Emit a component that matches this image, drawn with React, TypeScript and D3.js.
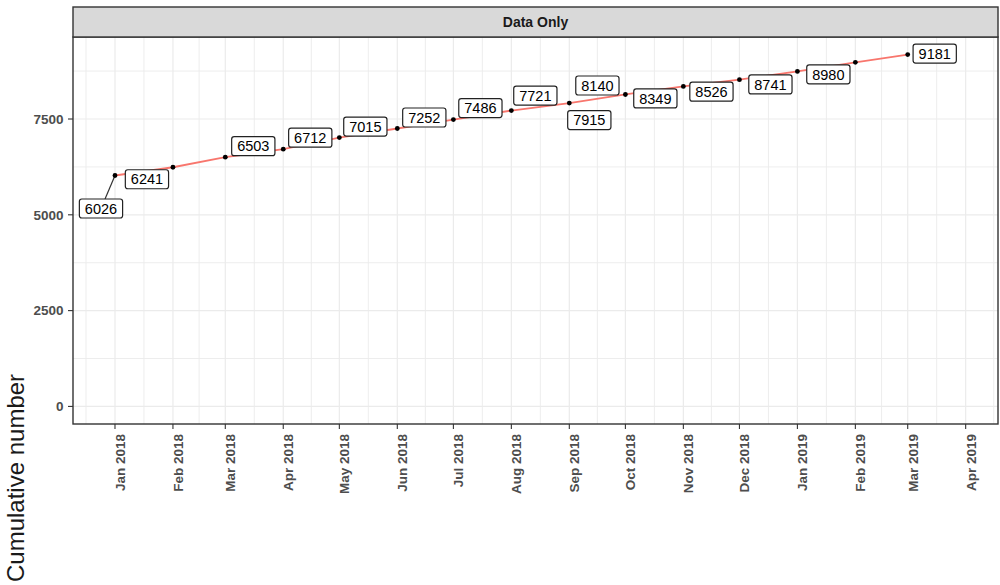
import React, { useEffect } from "react";
import * as d3 from "d3";

// ---- data ----
const monthDates = [
  "2018-01-01", "2018-02-01", "2018-03-01", "2018-04-01", "2018-05-01",
  "2018-06-01", "2018-07-01", "2018-08-01", "2018-09-01", "2018-10-01",
  "2018-11-01", "2018-12-01", "2019-01-01", "2019-02-01", "2019-03-01",
];
const cumulative = [6026, 6241, 6503, 6712, 7015, 7252, 7486, 7721, 7915, 8140, 8349, 8526, 8741, 8980, 9181];
const yTicks = [0, 2500, 5000, 7500];
const yMinorTicks = [1250, 3750, 6250, 8750];
const xLimits = ["2017-12-09T13:00:00Z", "2019-04-18T07:00:00Z"];
const tickStart = "2018-01-01";
const tickEnd = "2019-04-02";
const facetTitle = "Data Only";
const yTitle = "Cumulative number";

// label placement (repelled label offsets, px from point)
const labelDX = [-14, -26, 28, 27, 26, 27, 27, 24, 20, -28, -28, -28, -27, -27, 27];
const labelDY = [33, 12, -11, -11.5, -11, -11, -11.5, -15, 17, -9, 12, 12, 13, 12, -1];

const W = 1000;
const H = 585;
const panel = { left: 73, right: 998, top: 37, bottom: 424 };
const strip = { top: 7, bottom: 37 };
const FONT = "'Liberation Sans', Arial, Helvetica, sans-serif";

export default function App() {
  useEffect(() => {
    document.body.style.margin = "0";
  }, []);

  const parse = (s: string) => new Date(s.length === 10 ? s + "T00:00:00Z" : s);
  const data = monthDates.map((d, i) => ({ date: parse(d), value: cumulative[i], i }));

  const x = d3.scaleUtc().domain([parse(xLimits[0]), parse(xLimits[1])]).range([panel.left, panel.right]);
  const maxV = d3.max(cumulative) as number;
  const pad = 0.05 * (maxV - 0);
  const y = d3.scaleLinear().domain([0 - pad, maxV + pad]).range([panel.bottom, panel.top]);

  const majorX = d3.utcMonth.range(parse(tickStart), parse(tickEnd));
  const allMonths = d3.utcMonth.range(d3.utcMonth.offset(parse(tickStart), -1), d3.utcMonth.offset(parse(tickEnd), 2));
  const minorX: Date[] = [];
  for (let k = 0; k < allMonths.length - 1; k++) {
    const m = new Date((allMonths[k].getTime() + allMonths[k + 1].getTime()) / 2);
    const px = x(m);
    if (px > panel.left && px < panel.right) minorX.push(m);
  }
  const fmt = d3.utcFormat("%b %Y");

  const line = d3
    .line<{ date: Date; value: number }>()
    .x((d) => x(d.date))
    .y((d) => y(d.value));

  const labelFs = 14.5;
  const boxPad = 5.5;
  const boxH = 19;

  return (
    <svg
      width={W}
      height={H}
      style={{ position: "absolute", left: 0, top: 0, background: "#fff" }}
      fontFamily={FONT}
    >
      <rect x={0} y={0} width={W} height={H} fill="#fff" />
      {/* panel background */}
      <rect x={panel.left} y={panel.top} width={panel.right - panel.left} height={panel.bottom - panel.top} fill="#fff" />
      {/* minor grid */}
      {minorX.map((d, k) => (
        <line key={"mx" + k} x1={x(d)} x2={x(d)} y1={panel.top} y2={panel.bottom} stroke="#EBEBEB" strokeWidth={0.9} />
      ))}
      {yMinorTicks.map((v, k) => (
        <line key={"my" + k} x1={panel.left} x2={panel.right} y1={y(v)} y2={y(v)} stroke="#EBEBEB" strokeWidth={0.9} />
      ))}
      {/* major grid */}
      {majorX.map((d, k) => (
        <line key={"Mx" + k} x1={x(d)} x2={x(d)} y1={panel.top} y2={panel.bottom} stroke="#EBEBEB" strokeWidth={1.2} />
      ))}
      {yTicks.map((v, k) => (
        <line key={"My" + k} x1={panel.left} x2={panel.right} y1={y(v)} y2={y(v)} stroke="#EBEBEB" strokeWidth={1.2} />
      ))}

      {/* data line */}
      <path d={line(data) || ""} fill="none" stroke="#F8766D" strokeWidth={1.8} />

      {/* segments for far labels */}
      {data.map((d) => {
        const px = x(d.date);
        const py = y(d.value);
        const cx = px + labelDX[d.i];
        const cy = py + labelDY[d.i];
        const txt = String(d.value);
        const bw = txt.length * 0.556 * labelFs + 2 * boxPad;
        const hw = bw / 2;
        const hh = boxH / 2;
        const dx = px - cx;
        const dy = py - cy;
        const inside = Math.abs(dx) <= hw + 12 && Math.abs(dy) <= hh + 12;
        if (inside) return null;
        const t = Math.min(hw / Math.abs(dx || 1e-9), hh / Math.abs(dy || 1e-9));
        const ex = cx + dx * t;
        const ey = cy + dy * t;
        return <line key={"seg" + d.i} x1={px} y1={py} x2={ex} y2={ey} stroke="#333" strokeWidth={1.2} />;
      })}

      {/* points */}
      {data.map((d) => (
        <circle key={"pt" + d.i} cx={x(d.date)} cy={y(d.value)} r={2.4} fill="#000" />
      ))}

      {/* labels */}
      {data.map((d) => {
        const px = x(d.date);
        const py = y(d.value);
        const cx = px + labelDX[d.i];
        const cy = py + labelDY[d.i];
        const txt = String(d.value);
        const bw = txt.length * 0.556 * labelFs + 2 * boxPad;
        return (
          <g key={"lab" + d.i}>
            <rect x={cx - bw / 2} y={cy - boxH / 2} width={bw} height={boxH} rx={2.5} fill="#fff" stroke="#222" strokeWidth={1.2} />
            <text x={cx} y={cy} dy="0.36em" textAnchor="middle" fontSize={labelFs} fill="#000">
              {txt}
            </text>
          </g>
        );
      })}

      {/* panel border */}
      <rect
        x={panel.left}
        y={panel.top}
        width={panel.right - panel.left}
        height={panel.bottom - panel.top}
        fill="none"
        stroke="#333"
        strokeWidth={1.4}
      />

      {/* strip */}
      <rect
        x={panel.left}
        y={strip.top}
        width={panel.right - panel.left}
        height={strip.bottom - strip.top}
        fill="#D9D9D9"
        stroke="#333"
        strokeWidth={1.4}
      />
      <text
        x={(panel.left + panel.right) / 2}
        y={(strip.top + strip.bottom) / 2}
        dy="0.36em"
        textAnchor="middle"
        fontSize={14}
        fontWeight="bold"
        fill="#1A1A1A"
      >
        {facetTitle}
      </text>

      {/* y axis */}
      {yTicks.map((v, k) => (
        <g key={"yt" + k}>
          <line x1={panel.left - 5} x2={panel.left} y1={y(v)} y2={y(v)} stroke="#333" strokeWidth={1.1} />
          <text x={panel.left - 9.5} y={y(v)} dy="0.36em" textAnchor="end" fontSize={13.5} fontWeight="bold" fill="#4D4D4D">
            {v}
          </text>
        </g>
      ))}

      {/* x axis */}
      {majorX.map((d, k) => (
        <g key={"xt" + k}>
          <line x1={x(d)} x2={x(d)} y1={panel.bottom} y2={panel.bottom + 5} stroke="#333" strokeWidth={1.1} />
          <text
            transform={`translate(${x(d)},${panel.bottom + 10}) rotate(-90)`}
            y={10}
            textAnchor="end"
            fontSize={13.5}
            fontWeight="bold"
            fill="#4D4D4D"
          >
            {fmt(d)}
          </text>
        </g>
      ))}

      {/* y title */}
      <text transform={`translate(24,582) rotate(-90)`} textAnchor="start" fontSize={24} fill="#1A1A1A">
        {yTitle}
      </text>
    </svg>
  );
}
